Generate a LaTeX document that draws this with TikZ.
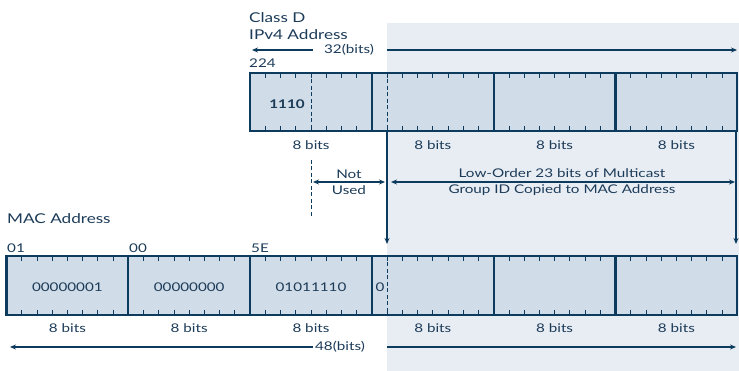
\documentclass[tikz,border=0pt]{standalone}
\usepackage{fontspec}
\setmainfont{Lato}[FakeStretch=1.27]
\usetikzlibrary{arrows.meta}

\definecolor{regline}{HTML}{0D3B5E}
\definecolor{regfill}{HTML}{D0DCE8}
\definecolor{copyzone}{HTML}{E8EDF4}
\definecolor{lbltext}{HTML}{1C3B58}

\tikzset{
  lbl/.style={text=lbltext, inner sep=0pt, font=\fontsize{12}{16}\selectfont},
  title/.style={lbl, anchor=west, font=\fontsize{13.5}{16}\selectfont},
  bytebox/.style={draw=regline, line width=2.2pt},
  tick/.style={draw=regline, line width=0.8pt},
  dimarrow/.style={draw=regline, line width=1.1pt, -{Stealth[length=6pt,width=5pt]}},
  bothways/.style={dimarrow, {Stealth[length=6pt,width=5pt]}-{Stealth[length=6pt,width=5pt]}},
  bitdash/.style={draw=regline, line width=0.8pt, dash pattern=on 4pt off 2.5pt}
}

\def\bw{121.8}

\begin{document}
\begin{tikzpicture}[x=1pt, y=-1pt]
  \useasboundingbox (0,0) rectangle (739,371);

  % shaded part that is copied
  \fill[copyzone] (387,23) rectangle (739,371);

  % Class D IPv4 address, 4 bytes
  \node[title] (classd) at (249,18) {Class D};
  \node[title] (ipv4) at (249,35) {IPv4 Address};
  \node[lbl] (bits32) at (349,50) {32(bits)};
  \coordinate (ipl) at (252,50);
  \coordinate (ipr) at (737,50);
  \draw[dimarrow] (313,50) coordinate (ipa) -- (ipl);
  \draw[dimarrow] (387,50) coordinate (ipb) -- (ipr);
  \node[lbl, anchor=west] (ip224) at (249,63) {224};

  \fill[regfill] (250.1,73) rectangle ({250.1+4*\bw},131);
  \foreach \b in {0,...,3}
    \foreach \t in {1,...,7}
      \draw[tick] ({250.1+\b*\bw+\t*\bw/8},73) -- ++(0,5)
                  ({250.1+\b*\bw+\t*\bw/8},131) -- ++(0,-5);
  \draw[bitdash] ({250.1+4*\bw/8},73) -- ++(0,58);
  \draw[bitdash] ({250.1+9*\bw/8},73) -- ++(0,58);
  \draw[bytebox] (250.1,73) rectangle ({250.1+4*\bw},131);
  \foreach \b in {1,2,3}
    \draw[bytebox] ({250.1+\b*\bw},73) -- ++(0,58);
  \node[lbl, font=\bfseries\fontsize{12}{16}\selectfont] (ipfirst) at (287,104) {1110};
  \foreach \b in {0,...,3}
    \node[lbl] (ipbits\b) at ({250.1+(\b+0.5)*\bw},145) {8 bits};

  % not used / copied bits
  \draw[bitdash] ({250.1+4*\bw/8},160) coordinate (nu) -- ++(0,58);
  \node[lbl, align=center] (notused) at (349,182) {Not\\Used};
  \coordinate (nul) at (313,182);
  \coordinate (nur) at (385,182);
  \draw[bothways] (nul) -- (nur);
  \node[lbl, align=center] (loworder) at (562,182)
    {Low-Order 23 bits of Multicast\\Group ID Copied to MAC Address};
  \coordinate (lol) at (391,182);
  \coordinate (lor) at (735,182);
  \draw[bothways] (lol) -- (lor);

  \coordinate (cpl) at (387,131);
  \coordinate (cpr) at (736,131);
  \draw[dimarrow] (cpl) -- (387,244);
  \draw[dimarrow] (cpr) -- (736,244);

  % MAC address, 6 bytes
  \node[title] (mac) at (7,219) {MAC Address};
  \node[lbl, anchor=west] (mac01) at (7,248) {01};
  \node[lbl, anchor=west] (mac00) at (129,248) {00};
  \node[lbl, anchor=west] (mac5e) at (251,248) {5E};

  \fill[regfill] (6.5,256) rectangle ({6.5+6*\bw},315);
  \foreach \b in {0,...,5}
    \foreach \t in {1,...,7}
      \draw[tick] ({6.5+\b*\bw+\t*\bw/8},256) -- ++(0,5)
                  ({6.5+\b*\bw+\t*\bw/8},315) -- ++(0,-5);
  \draw[bitdash] ({6.5+25*\bw/8},256) -- ++(0,59);
  \draw[bytebox] (6.5,256) rectangle ({6.5+6*\bw},315);
  \foreach \b in {1,...,5}
    \draw[bytebox] ({6.5+\b*\bw},256) -- ++(0,59);
  \node[lbl] (macb0) at ({6.5+0.5*\bw},287) {00000001};
  \node[lbl] (macb1) at ({6.5+1.5*\bw},287) {00000000};
  \node[lbl] (macb2) at ({6.5+2.5*\bw},287) {01011110};
  \node[lbl] (macb3) at (380,287) {0};
  \foreach \b in {0,...,5}
    \node[lbl] (macbits\b) at ({6.5+(\b+0.5)*\bw},328) {8 bits};

  \node[lbl] (bits48) at (340,347) {48(bits)};
  \coordinate (macl) at (10,347);
  \coordinate (macr) at (736,347);
  \draw[dimarrow] (313,347) -- (macl);
  \draw[dimarrow] (387,347) -- (macr);
\end{tikzpicture}
\end{document}
